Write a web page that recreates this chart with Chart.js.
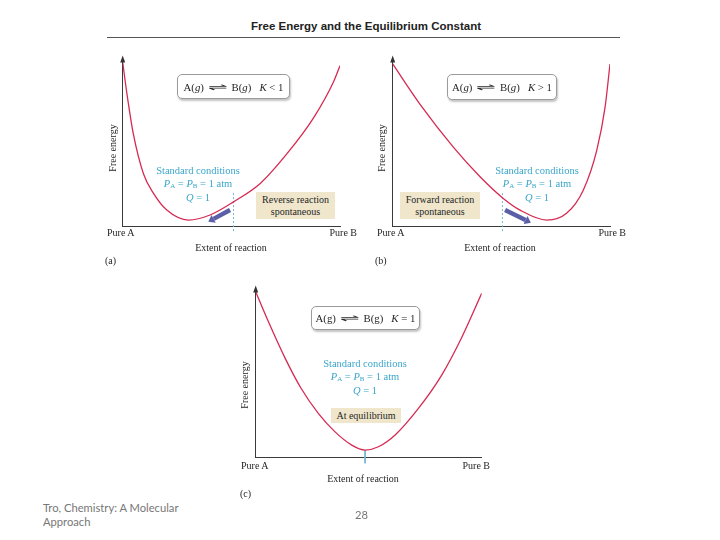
<!DOCTYPE html>
<html>
<head>
<meta charset="utf-8">
<script src="https://cdn.jsdelivr.net/npm/chart.js@4"></script>
<style>
  body { margin: 0; width: 720px; height: 540px; background: #fff; position: relative; overflow: hidden; font-family: "Liberation Serif", serif; }
  canvas { position: absolute; }
  .t { position: absolute; white-space: nowrap; font-size: 10px; color: #262626; line-height: 10px; }
  .c { transform: translateX(-50%); }
  .r { transform: translateX(-100%); }
  .yl { transform: translate(-50%, -50%) rotate(-90deg); }
  .eq { position: absolute; box-sizing: border-box; border: 1px solid #9b9b9b; border-radius: 5px; box-shadow: 1px 2px 2px #c4c4c4; background: #fff; font-size: 10.8px; color: #262626; display: flex; align-items: center; justify-content: center; white-space: nowrap; }
  .eq i { font-style: italic; }
  .harp { display: inline-block; font-family: "DejaVu Sans"; font-size: 9px; transform: scaleX(2.6); margin: 0 10px; }
  .blue { position: absolute; transform: translateX(-50%); color: #3aa6ca; font-size: 10.5px; line-height: 12.5px; text-align: center; white-space: nowrap; }
  .blue sub { font-size: 7px; vertical-align: -1px; }
  .beige { position: absolute; box-sizing: border-box; background: #efe6cb; color: #262626; font-size: 10px; line-height: 12px; text-align: center; display: flex; align-items: center; justify-content: center; }
  .title { position: absolute; left: 366px; top: 20px; transform: translateX(-50%); font-family: "Liberation Sans", sans-serif; font-weight: bold; font-size: 11.5px; color: #222; white-space: nowrap; }
  .rule { position: absolute; left: 107px; top: 37px; width: 513px; height: 0; border-top: 1.5px solid #555; }
  .foot { position: absolute; font-family: Lato, sans-serif; font-size: 11.2px; color: #777; line-height: 14px; white-space: nowrap; }
</style>
</head>
<body>

<div class="title">Free Energy and the Equilibrium Constant</div>
<div class="rule"></div>

<!-- panel a -->
<canvas id="chartA" width="240" height="190" style="left:112px; top:48px;"></canvas>
<div class="t yl" style="left:113px; top:148px;">Free energy</div>
<div class="t" style="left:107px; top:228px;">Pure A</div>
<div class="t r" style="left:357px; top:228px;">Pure B</div>
<div class="t c" style="left:231px; top:243px;">Extent of reaction</div>
<div class="t" style="left:105px; top:256px;">(a)</div>
<div class="eq" style="left:177px; top:74px; width:113px; height:25px;">A(<i>g</i>)<span class="harp">⇌</span>B(<i>g</i>)&nbsp;&nbsp;&nbsp;<i>K</i>&nbsp;&lt;&nbsp;1</div>
<div class="blue" style="left:198px; top:165px;">Standard conditions<br><i>P</i><sub>A</sub> = <i>P</i><sub>B</sub> = 1 atm<br><i>Q</i> = 1</div>
<div class="beige" style="left:256px; top:192px; width:79px; height:27px;">Reverse reaction<br>spontaneous</div>

<!-- panel b -->
<canvas id="chartB" width="240" height="190" style="left:382px; top:48px;"></canvas>
<div class="t yl" style="left:382px; top:148px;">Free energy</div>
<div class="t" style="left:377px; top:228px;">Pure A</div>
<div class="t r" style="left:626px; top:228px;">Pure B</div>
<div class="t c" style="left:500px; top:243px;">Extent of reaction</div>
<div class="t" style="left:375px; top:256px;">(b)</div>
<div class="eq" style="left:447px; top:74px; width:110px; height:26px;">A(<i>g</i>)<span class="harp">⇌</span>B(<i>g</i>)&nbsp;&nbsp;&nbsp;<i>K</i>&nbsp;&gt;&nbsp;1</div>
<div class="blue" style="left:537px; top:165px;">Standard conditions<br><i>P</i><sub>A</sub> = <i>P</i><sub>B</sub> = 1 atm<br><i>Q</i> = 1</div>
<div class="beige" style="left:400px; top:192px; width:80px; height:27px;">Forward reaction<br>spontaneous</div>

<!-- panel c -->
<canvas id="chartC" width="250" height="192" style="left:245px; top:278px;"></canvas>
<div class="t yl" style="left:245px; top:385px;">Free energy</div>
<div class="t" style="left:241px; top:461px;">Pure A</div>
<div class="t r" style="left:490px; top:461px;">Pure B</div>
<div class="t c" style="left:363px; top:474px;">Extent of reaction</div>
<div class="t" style="left:240px; top:489px;">(c)</div>
<div class="eq" style="left:311px; top:306px; width:109px; height:24px;">A(g)<span class="harp">⇌</span>B(g)&nbsp;&nbsp;&nbsp;<i>K</i>&nbsp;=&nbsp;1</div>
<div class="blue" style="left:365px; top:358px;">Standard conditions<br><i>P</i><sub>A</sub> = <i>P</i><sub>B</sub> = 1 atm<br><i>Q</i> = 1</div>
<div class="beige" style="left:331px; top:408px; width:70px; height:15px;">At equilibrium</div>

<div class="foot" style="left:43px; top:501px;">Tro, Chemistry: A Molecular<br>Approach</div>
<div class="foot" style="left:355px; top:508px;">28</div>

<script>
// free energy curves, extent of reaction (0 = pure A, 1 = pure B)
const curveAx = [0, 0.02, 0.049, 0.095, 0.141, 0.203, 0.303, 0.402, 0.51, 0.633, 0.756, 0.879, 0.971, 1];
const curveAy = [99.6, 80, 56, 32, 20, 9.7, 3.6, 6.7, 14.7, 25.9, 44, 66, 88, 97.6];

const curveBx = [0, 0.126, 0.279, 0.402, 0.509, 0.586, 0.709, 0.8, 0.877, 0.939, 0.977, 1];
const curveBy = [98.6, 74, 48, 30, 16.8, 9.7, 3.6, 7.7, 21.8, 46, 72, 98.6];

const curveCx = [0, 0.056, 0.13, 0.2, 0.277, 0.35, 0.425, 0.484, 0.543, 0.617, 0.72, 0.823, 0.91, 1];
const curveCy = [100, 82, 60, 42, 26.7, 15.7, 7.6, 4.6, 6.6, 13.7, 29.7, 49.8, 72, 99];

// standard-state marker (Q = 1)
const markAx = [0.51, 0.51];
const markAy = [20, -4.2];
const markBx = [0.505, 0.505];
const markBy = [20, -4.2];
const markCx = [0.484, 0.484];
const markCy = [4.6, -3.4];

// direction of spontaneous change
const arrowA = [[0.494, 9.7], [0.394, 2.6]];
const arrowB = [[0.517, 9.7], [0.636, 2.0]];

function pts(xs, ys) {
  return xs.map((x, i) => ({ x: x, y: ys[i] }));
}

const extras = {
  id: 'extras',
  afterDraw(chart, args, opts) {
    const ctx = chart.ctx;
    const area = chart.chartArea;
    // arrowhead on the energy axis
    ctx.save();
    ctx.fillStyle = '#333';
    ctx.beginPath();
    ctx.moveTo(area.left, area.top - 3);
    ctx.lineTo(area.left - 2.5, area.top + 4);
    ctx.lineTo(area.left + 2.5, area.top + 4);
    ctx.closePath();
    ctx.fill();
    if (opts.arrow) {
      const xs = chart.scales.x, ys = chart.scales.y;
      const x0 = xs.getPixelForValue(opts.arrow[0][0]), y0 = ys.getPixelForValue(opts.arrow[0][1]);
      const x1 = xs.getPixelForValue(opts.arrow[1][0]), y1 = ys.getPixelForValue(opts.arrow[1][1]);
      const a = Math.atan2(y1 - y0, x1 - x0);
      const hl = 6, hw = 4.5;
      const bx = x1 - hl * Math.cos(a), by = y1 - hl * Math.sin(a);
      ctx.strokeStyle = '#5b5fa7';
      ctx.fillStyle = '#5b5fa7';
      ctx.lineWidth = 4.5;
      ctx.beginPath();
      ctx.moveTo(x0, y0);
      ctx.lineTo(bx, by);
      ctx.stroke();
      ctx.beginPath();
      ctx.moveTo(x1, y1);
      ctx.lineTo(bx + hw * Math.sin(a), by - hw * Math.cos(a));
      ctx.lineTo(bx - hw * Math.sin(a), by + hw * Math.cos(a));
      ctx.closePath();
      ctx.fill();
    }
    ctx.restore();
  }
};

function makeChart(id, xs, ys, mx, my, dashed, arrow, pad) {
  const axis = (min, max) => ({
    type: 'linear', min: min, max: max,
    grid: { display: false, drawTicks: false },
    ticks: { display: false },
    border: { display: true, color: '#3a3a3a', width: 1 }
  });
  new Chart(document.getElementById(id).getContext('2d'), {
    type: 'line',
    data: {
      datasets: [{
        data: pts(xs, ys),
        borderColor: '#d62a52',
        borderWidth: 1.3,
        pointRadius: 0,
        cubicInterpolationMode: 'monotone',
        fill: false
      }, {
        data: pts(mx, my),
        borderColor: '#72b6d0',
        borderWidth: 1,
        borderDash: dashed ? [2, 2] : [],
        pointRadius: 0,
        clip: false
      }]
    },
    options: {
      responsive: false,
      animation: false,
      events: [],
      layout: { padding: pad },
      plugins: {
        legend: { display: false },
        tooltip: { enabled: false },
        extras: { arrow: arrow }
      },
      scales: { x: axis(0, 1), y: axis(0, 102) }
    },
    plugins: [extras]
  });
}

makeChart('chartA', curveAx, curveAy, markAx, markAy, true, arrowA, { left: 10.7, top: 10.4, right: 12, bottom: 12 });
makeChart('chartB', curveBx, curveBy, markBx, markBy, true, arrowB, { left: 10.7, top: 10.4, right: 12, bottom: 12 });
makeChart('chartC', curveCx, curveCy, markCx, markCy, false, null, { left: 10.7, top: 10.4, right: 13.3, bottom: 12.3 });
</script>
</body>
</html>
